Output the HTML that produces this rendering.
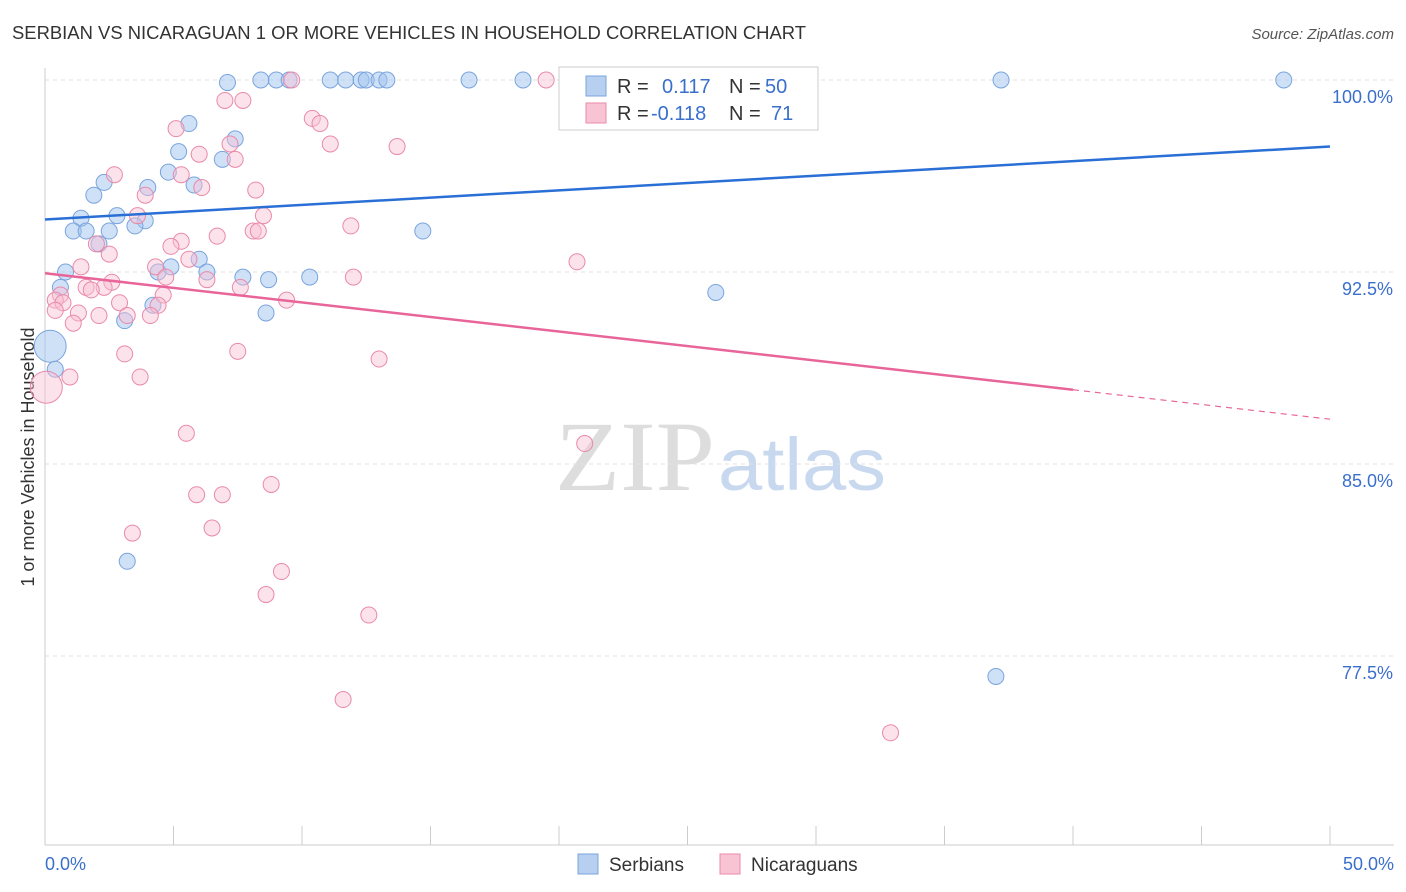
<!DOCTYPE html>
<html><head><meta charset="utf-8">
<style>
body{margin:0;background:#fff;font-family:"Liberation Sans",sans-serif;}
svg{display:block}
</style></head>
<body>
<svg id="chart" width="1406" height="892">
<text x="12" y="39" font-size="18" fill="#333" textLength="794" lengthAdjust="spacingAndGlyphs">SERBIAN VS NICARAGUAN 1 OR MORE VEHICLES IN HOUSEHOLD CORRELATION CHART</text>
<text x="1394" y="39" font-size="15" fill="#555" font-style="italic" text-anchor="end">Source: ZipAtlas.com</text>
<text x="0" y="0" transform="translate(34,457) rotate(-90)" font-size="18" fill="#333" text-anchor="middle">1 or more Vehicles in Household</text>
<text x="555" y="490" font-size="100" fill="#ddd" font-family="Liberation Serif,serif" textLength="160" lengthAdjust="spacingAndGlyphs">ZIP</text>
<text x="718" y="490" font-size="74" fill="#c8d8ee" textLength="168" lengthAdjust="spacingAndGlyphs">atlas</text>
<g id="grid"></g><g id="axes"></g><g id="pts"></g><g id="lines"></g>
<g>
<rect x="559" y="67" width="259" height="63" fill="#fff" stroke="#ccc"/>
<rect x="586" y="76" width="20" height="20" fill="#b8d0f0" stroke="#7aa4dd"/>
<text x="617" y="93" font-size="20" fill="#333">R =</text>
<text x="662" y="93" font-size="20" fill="#3a6fcc">0.117</text>
<text x="729" y="93" font-size="20" fill="#333">N =</text>
<text x="765" y="93" font-size="20" fill="#3a6fcc">50</text>
<rect x="586" y="103" width="20" height="20" fill="#f8c4d4" stroke="#e98aaa"/>
<text x="617" y="120" font-size="20" fill="#333">R =</text>
<text x="651" y="120" font-size="20" fill="#3a6fcc">-0.118</text>
<text x="729" y="120" font-size="20" fill="#333">N =</text>
<text x="771" y="120" font-size="20" fill="#3a6fcc">71</text>
</g>
<g>
<rect x="578" y="854" width="20" height="20" fill="#b8d0f0" stroke="#7aa4dd"/>
<text x="609" y="871" font-size="19" fill="#333">Serbians</text>
<rect x="720" y="854" width="20" height="20" fill="#f8c4d4" stroke="#e98aaa"/>
<text x="751" y="871" font-size="19" fill="#333">Nicaraguans</text>
</g>
</svg>
<script>
const NS="http://www.w3.org/2000/svg";
const yTicks=[100,92.5,85,77.5];
const yTickLabels=["100.0%","92.5%","85.0%","77.5%"];
const xMin=0,xMax=50;
const serbX=[7.1,8.4,9.0,9.5,11.1,11.7,12.3,12.5,13.0,13.3,16.5,18.6,20.6,37.2,48.2,5.6,7.4,5.2,6.9,4.8,5.8,2.3,4.0,1.9,1.4,2.8,3.9,3.5,2.5,1.1,1.6,2.1,14.7,6.0,4.4,4.9,6.3,0.8,7.7,8.7,10.3,0.6,4.2,3.1,8.6,26.1,0.2,0.4,3.2,37.0];
const serbY=[99.9,100,100,100,100,100,100,100,100,100,100,100,100,100,100,98.3,97.7,97.2,96.9,96.4,95.9,96.0,95.8,95.5,94.6,94.7,94.5,94.3,94.1,94.1,94.1,93.6,94.1,93.0,92.5,92.7,92.5,92.5,92.3,92.2,92.3,91.9,91.2,90.6,90.9,91.7,89.6,88.7,81.2,76.7];
const nicX=[9.6,19.5,23.8,7.0,7.7,10.4,10.7,5.1,11.1,13.7,7.2,6.0,7.4,2.7,5.3,6.1,8.2,3.9,8.5,3.6,11.9,8.1,8.3,6.7,5.3,4.9,2.0,2.5,5.6,4.3,1.4,4.7,6.3,12.0,20.7,0.6,2.6,1.6,7.6,4.6,0.4,0.7,2.3,1.8,2.9,9.4,4.4,0.4,1.3,2.1,1.1,4.1,3.2,3.1,7.5,13.0,0.97,3.7,0.05,5.5,21.0,5.9,6.9,8.8,6.5,3.4,9.2,8.6,12.6,11.6,32.9];
const nicY=[100,100,100,99.2,99.2,98.5,98.3,98.1,97.5,97.4,97.5,97.1,96.9,96.3,96.3,95.8,95.7,95.5,94.7,94.7,94.3,94.1,94.1,93.9,93.7,93.5,93.6,93.2,93.0,92.7,92.7,92.3,92.2,92.3,92.9,91.6,92.1,91.9,91.9,91.6,91.4,91.3,91.9,91.8,91.3,91.4,91.2,91.0,90.9,90.8,90.5,90.8,90.8,89.3,89.4,89.1,88.4,88.4,88.0,86.2,85.8,83.8,83.8,84.2,82.5,82.3,80.8,79.9,79.1,75.8,74.5];
const big={serb:[46],nic:[58]};
const blueLine=[94.55,97.4];
const pinkLine=[92.45,87.9,86.75];
const X=v=>45+(v-xMin)/(xMax-xMin)*1285;
const Y=v=>80+(100-v)*25.6;
function mk(parent,tag,attrs){const e=document.createElementNS(NS,tag);for(const k in attrs)e.setAttribute(k,attrs[k]);document.getElementById(parent).appendChild(e);return e;}
yTicks.forEach((t,i)=>{
 const l=mk('grid','line',{x1:45,x2:1394,y1:Y(t),y2:Y(t),stroke:'#e2e2e2','stroke-dasharray':'4,4'});
 
 
 const tx=mk('grid','text',{x:1393,y:Y(t)+23,'font-size':18,fill:'#3a6fcc','text-anchor':'end'});
 tx.textContent=yTickLabels[i];
 
 
});
const ax=mk('axes','line',{x1:45,x2:1394,y1:845,y2:845,stroke:'#ccc'});


const ay=mk('axes','line',{x1:45,x2:45,y1:68,y2:845,stroke:'#ccc'});


for(let i=0;i<=10;i++){
 const t=mk('axes','line',{x1:X(i*5),x2:X(i*5),y1:826,y2:845,stroke:'#ccc'});
 
 
}
const xl=mk('axes','text',{x:45,y:870,'font-size':18,fill:'#3a6fcc'});xl.textContent='0.0%';


const xr=mk('axes','text',{x:1394,y:870,'font-size':18,fill:'#3a6fcc','text-anchor':'end'});xr.textContent='50.0%';


serbX.forEach((x,i)=>{
 const c=mk('pts','circle',{cx:X(x),cy:Y(serbY[i]),r:big.serb.includes(i)?16:8,fill:'rgba(160,195,240,0.5)',stroke:'#7aa4dd','stroke-width':1});
 
 
});
nicX.forEach((x,i)=>{
 const c=mk('pts','circle',{cx:X(x),cy:Y(nicY[i]),r:big.nic.includes(i)?16:8,fill:'rgba(248,190,210,0.45)',stroke:'#e98aaa','stroke-width':1});
 
 
});
const bl=mk('lines','line',{x1:X(0),y1:Y(blueLine[0]),x2:X(50),y2:Y(blueLine[1]),stroke:'#2a6fd6','stroke-width':2.5});


const pl=mk('lines','line',{x1:X(0),y1:Y(pinkLine[0]),x2:X(40),y2:Y(pinkLine[1]),stroke:'#e8659a','stroke-width':2.5});


const pd=mk('lines','line',{x1:X(40),y1:Y(pinkLine[1]),x2:X(50),y2:Y(pinkLine[2]),stroke:'#e8659a','stroke-width':1.2,'stroke-dasharray':'6,5'});


</script>
</body></html>
